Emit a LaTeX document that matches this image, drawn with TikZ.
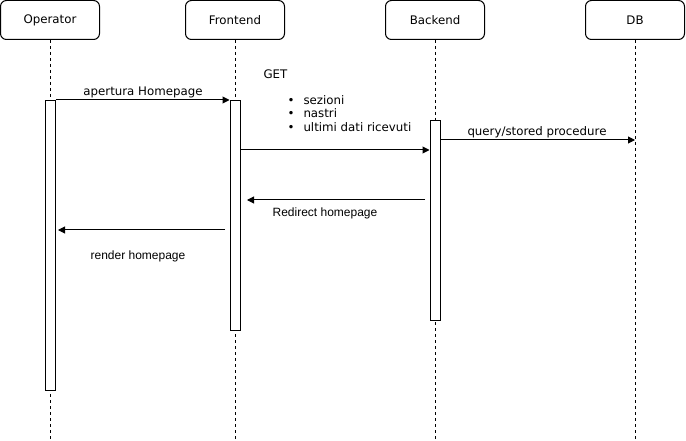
\documentclass[tikz,border=0pt]{standalone}
\usepackage{fontspec}
\setmainfont{DejaVu Sans}
\newfontfamily\arialfont{Liberation Sans}
\usetikzlibrary{arrows.meta}

\begin{document}
\begin{tikzpicture}[x=1pt,y=-1pt,line width=1pt]
\tikzstyle{every node}+=[inner sep=0pt]
\tikzstyle{actor}=[draw=black, rounded corners=6pt, minimum width=99pt, minimum height=39pt, font=\fontsize{11.8}{14}\selectfont]
\tikzstyle{lifeline}=[black, dash pattern=on 3pt off 3pt]
\tikzstyle{bar}=[draw=black, fill=white, minimum width=10pt, anchor=north]
\tikzstyle{msg}=[black, -{Triangle[length=7pt,width=7pt]}]
\tikzstyle{lbl}=[font=\fontsize{11.8}{13.5}\selectfont]
\tikzstyle{albl}=[font=\arialfont\fontsize{12}{14}\selectfont]
\useasboundingbox (0,0) rectangle (686,441);
\node [actor] (op) at (50,20) {Operator};
\node [actor] (fe) at (235,20) {Frontend};
\node [actor] (be) at (435,20) {Backend};
\node [actor] (db) at (635,20) {DB};
\draw [lifeline] (op.south) -- (op.south |- 0,441);
\draw [lifeline] (fe.south) -- (fe.south |- 0,441);
\draw [lifeline] (be.south) -- (be.south |- 0,441);
\draw [lifeline] (db.south) -- (db.south |- 0,441);
\node [bar, minimum height=290pt] (opbar) at (50,100) {};
\node [bar, minimum height=230pt] (febar) at (235,100) {};
\node [bar, minimum height=200pt] (bebar) at (435,120) {};
\draw [msg] (opbar.north east) -- (febar.north west);
\node [lbl] (apertura) at (143,92) {apertura Homepage};
\node [lbl, anchor=west] (get) at (263,74) {GET};
\node [lbl, anchor=west, align=left] (lista) at (287,113.5) {\makebox[16pt][l]{\textbullet}sezioni\\\makebox[16pt][l]{\textbullet}nastri\\\makebox[16pt][l]{\textbullet}ultimi dati ricevuti};
\draw [msg] (febar.east |- 0,150) -- (bebar.west |- 0,150);
\draw [msg] (bebar.east |- 0,140) -- (db.south |- 0,140);
\node [lbl] (query) at (537,132) {query/stored procedure};
\coordinate (redir-s) at (425,200);
\coordinate (redir-e) at (247,200);
\draw [msg] (redir-s) -- (redir-e);
\node [albl] (redirect) at (325,213) {Redirect homepage};
\coordinate (render-s) at (225,230);
\coordinate (render-e) at (58,230);
\draw [msg] (render-s) -- (render-e);
\node [albl] (render) at (138,256) {render homepage};
\end{tikzpicture}
\end{document}
